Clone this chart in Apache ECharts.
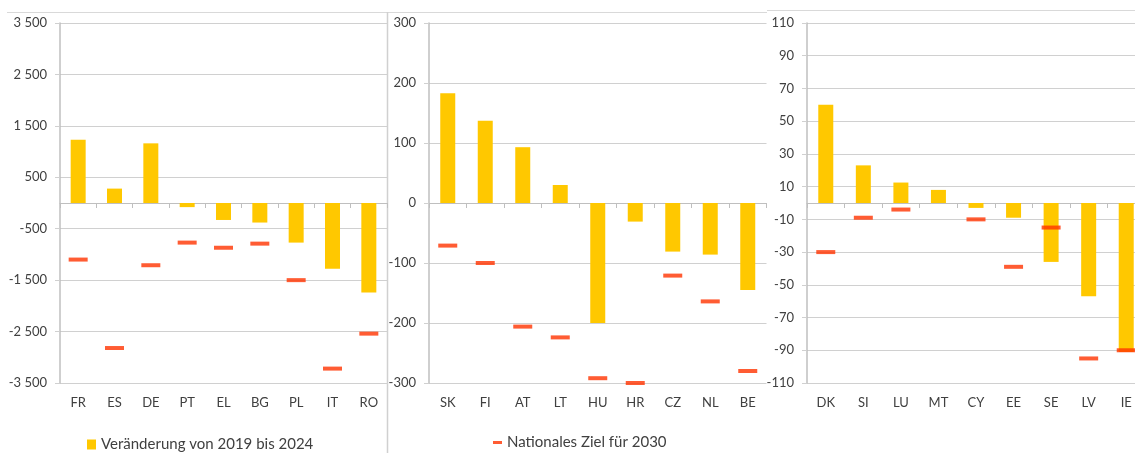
<!DOCTYPE html>
<html>
<head>
<meta charset="utf-8">
<script src="https://cdn.jsdelivr.net/npm/echarts@6/dist/echarts.min.js"></script>
<style>
html,body{margin:0;padding:0;background:#fff;overflow:hidden;width:1135px;height:453px;}
#c{width:1145px;height:453px;}
</style>
</head>
<body>
<div id="c"></div>
<script>
const cats1 = ['FR','ES','DE','PT','EL','BG','PL','IT','RO'];
const change1 = [1230, 280, 1160, -80, -330, -380, -770, -1280, -1740];
const target1 = [-1100, -2820, -1210, -770, -870, -790, -1500, -3220, -2540];

const cats2 = ['SK','FI','AT','LT','HU','HR','CZ','NL','BE'];
const change2 = [183, 137, 93, 30, -200, -31, -81, -86, -145];
const target2 = [-71, -100, -206, -224, -292, -300, -121, -164, -280];

const cats3 = ['DK','SI','LU','MT','CY','EE','SE','LV','IE'];
const change3 = [60, 23, 12.5, 8, -3, -9, -36, -57, -91];
const target3 = [-30, -9, -4, null, -10, -39, -15, -95, -90];

// y axis scales: [min, max, interval]
const yScale1 = [-3500, 3500, 1000];
const yScale2 = [-300, 300, 100];
const yScale3 = [-110, 110, 20];

const nameChange = 'Veränderung von 2019 bis 2024';
const nameTarget = 'Nationales Ziel für 2030';

const FONT = 'Lato';
const TXT = '#404040';
const GRIDC = '#D0D0D0';
const AXC = '#BFBFBF';
const BAR = '#FFC800';
const RED = '#FF3300';

function fmtThousands(v){
  const s = String(Math.abs(v)).replace(/\B(?=(\d{3})+(?!\d))/g, ' ');
  return (v < 0 ? '-' : '') + s;
}

const panels = [
  {cats: cats1, change: change1, target: target1, y: yScale1, left: 60, width: 327, fmt: fmtThousands},
  {cats: cats2, change: change2, target: target2, y: yScale2, left: 429, width: 337.5, fmt: v => String(v)},
  {cats: cats3, change: change3, target: target3, y: yScale3, left: 807, width: 338, fmt: v => String(v)}
];

const grid = [], xAxis = [], yAxis = [], series = [];
panels.forEach((p, i) => {
  grid.push({left: p.left, width: p.width, top: 23, height: 360, containLabel: false});
  xAxis.push({
    type: 'category', gridIndex: i, data: p.cats,
    axisLine: {onZero: true, lineStyle: {color: AXC, width: 1}},
    axisTick: {show: true, length: 5, lineStyle: {color: AXC}},
    axisLabel: {show: false},
    splitLine: {show: false}
  });
  xAxis.push({
    type: 'category', gridIndex: i, data: p.cats, position: 'bottom',
    axisLine: {show: false, onZero: false},
    axisTick: {show: false},
    axisLabel: {show: true, margin: 13, color: TXT, fontFamily: FONT, fontSize: 13},
    splitLine: {show: false}
  });
  yAxis.push({
    type: 'value', gridIndex: i, min: p.y[0], max: p.y[1], interval: p.y[2],
    axisLine: {show: true, lineStyle: {color: AXC, width: 1.5}},
    axisTick: {show: true, length: 5, lineStyle: {color: GRIDC}},
    axisLabel: {color: TXT, fontFamily: FONT, fontSize: 13, margin: 13, formatter: p.fmt},
    splitLine: {show: true, lineStyle: {color: GRIDC, width: 1}}
  });
  series.push({
    name: nameChange, type: 'bar', xAxisIndex: i * 2, yAxisIndex: i,
    data: p.change, barWidth: 15, itemStyle: {color: BAR}
  });
  series.push({
    name: nameTarget, type: 'scatter', xAxisIndex: i * 2, yAxisIndex: i,
    data: p.target, symbol: 'rect', symbolSize: [19, 4], itemStyle: {color: RED}, z: 5
  });
});

const chart = echarts.init(document.getElementById('c'), null, {renderer: 'canvas'});
chart.setOption({
  animation: false,
  backgroundColor: '#fff',
  grid, xAxis, yAxis, series,
  legend: [
    {data: [{name: nameChange, icon: 'rect'}], left: 87, top: 437, padding: 0, itemWidth: 9, itemHeight: 10,
     textStyle: {color: TXT, fontFamily: FONT, fontSize: 15}, selectedMode: false},
    {data: [{name: nameTarget, icon: 'rect'}], left: 493, top: 435, padding: 0, itemWidth: 9, itemHeight: 3,
     textStyle: {color: TXT, fontFamily: FONT, fontSize: 15}, selectedMode: false}
  ],
  graphic: [
    {type: 'line', shape: {x1: 7, y1: 12.5, x2: 767, y2: 12.5}, style: {stroke: '#D9D9D9', lineWidth: 1}, silent: true},
    {type: 'line', shape: {x1: 767, y1: 10.5, x2: 1145, y2: 10.5}, style: {stroke: '#D9D9D9', lineWidth: 1}, silent: true},
    {type: 'line', shape: {x1: 387.5, y1: 12, x2: 387.5, y2: 453}, style: {stroke: '#D0D0D0', lineWidth: 1.5}, silent: true}
  ]
});
</script>
</body>
</html>
